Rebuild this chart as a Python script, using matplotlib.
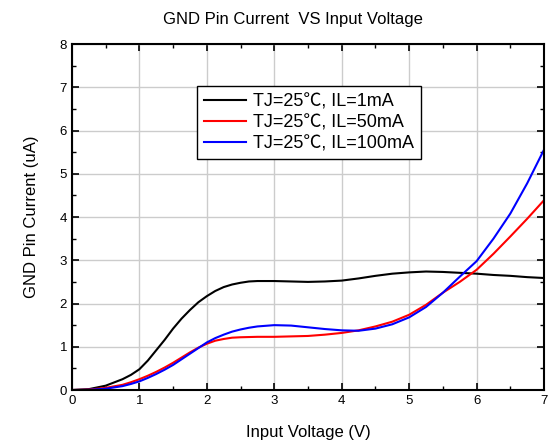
import matplotlib
matplotlib.use('Agg')
import matplotlib.pyplot as plt
from matplotlib.ticker import MultipleLocator

plt.rcParams['font.family'] = ['Liberation Sans', 'Noto Sans CJK SC', 'DejaVu Sans']

# input voltage (V)
vin = [0, 0.25, 0.5, 0.75, 0.875, 1.0, 1.125, 1.25, 1.375, 1.5, 1.625, 1.75, 1.875, 2.0,
       2.125, 2.25, 2.375, 2.5, 2.625, 2.75, 3.0, 3.25, 3.5, 3.75, 4.0, 4.25, 4.5, 4.75,
       5.0, 5.25, 5.5, 5.75, 6.0, 6.25, 6.5, 6.75, 7.0]

# GND pin current (uA)
i_1ma = [0, 0.02, 0.1, 0.25, 0.35, 0.48, 0.68, 0.92, 1.16, 1.42, 1.65, 1.85, 2.03, 2.17,
         2.29, 2.38, 2.44, 2.48, 2.51, 2.52, 2.52, 2.51, 2.5, 2.51, 2.53, 2.58, 2.64, 2.69,
         2.72, 2.74, 2.73, 2.71, 2.69, 2.66, 2.64, 2.61, 2.59]
i_50ma = [0, 0.01, 0.05, 0.12, 0.18, 0.25, 0.33, 0.42, 0.52, 0.63, 0.75, 0.87, 0.98, 1.07,
          1.14, 1.18, 1.21, 1.22, 1.225, 1.23, 1.23, 1.24, 1.25, 1.28, 1.32, 1.38, 1.47, 1.58,
          1.74, 1.97, 2.25, 2.5, 2.78, 3.15, 3.55, 3.96, 4.39]
i_100ma = [0, 0.005, 0.03, 0.09, 0.14, 0.2, 0.28, 0.37, 0.47, 0.58, 0.71, 0.84, 0.97, 1.1,
           1.2, 1.28, 1.35, 1.4, 1.44, 1.47, 1.5, 1.49, 1.45, 1.41, 1.38, 1.37, 1.42, 1.52,
           1.68, 1.92, 2.25, 2.62, 2.98, 3.5, 4.08, 4.78, 5.56]

labels = ['TJ=25℃, IL=1mA', 'TJ=25℃, IL=50mA', 'TJ=25℃, IL=100mA']

fig = plt.figure(figsize=(5.49, 4.43), dpi=100)
ax = fig.add_axes([0.131, 0.1196, 0.86, 0.781])

ax.plot(vin, i_1ma, color='black', lw=1.5, label=labels[0])
ax.plot(vin, i_50ma, color='red', lw=1.5, label=labels[1])
ax.plot(vin, i_100ma, color='blue', lw=1.5, label=labels[2])

ax.set_xlim(0, 7)
ax.set_ylim(0, 8)
ax.xaxis.set_major_locator(MultipleLocator(1))
ax.xaxis.set_minor_locator(MultipleLocator(0.5))
ax.yaxis.set_major_locator(MultipleLocator(1))
ax.yaxis.set_minor_locator(MultipleLocator(0.5))
ax.grid(True, which='major', color='#cccccc', lw=1)
ax.set_axisbelow(True)
ax.tick_params(which='both', direction='in', top=True, right=True, labelsize=9.5)
ax.tick_params(which='major', length=5, width=1.2)
ax.tick_params(which='minor', length=3, width=1)
for s in ax.spines.values():
    s.set_linewidth(1.5)

ax.set_xlabel('Input Voltage (V)', fontsize=12, labelpad=13)
ax.set_ylabel('GND Pin Current (uA)', fontsize=12, labelpad=15)
fig.text(0.534, 0.955, 'GND Pin Current  VS Input Voltage', ha='center', va='center', fontsize=12)

leg = ax.legend(loc='upper left', bbox_to_anchor=(0.265, 0.879), borderaxespad=0,
                fontsize=13, handlelength=2.3, handletextpad=0.4, labelspacing=0.22,
                borderpad=0.4, fancybox=False, framealpha=1, edgecolor='black')
leg.get_frame().set_linewidth(1)

fig.savefig('out.png', dpi=100)
